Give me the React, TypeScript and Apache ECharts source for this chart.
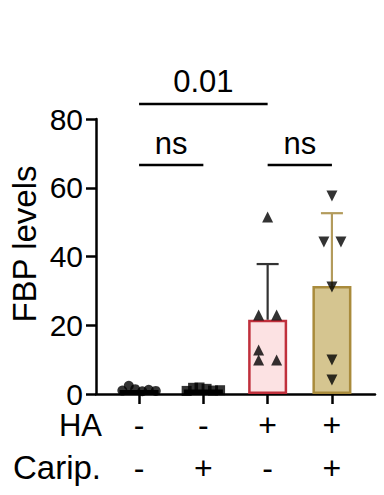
import React, { useEffect, useRef } from "react";
import * as echarts from "echarts";

const FONT = "'Liberation Sans', Arial, Helvetica, sans-serif";

// Row labels under the axis
const haRow = ["-", "-", "+", "+"];
const caripRow = ["-", "+", "-", "+"];
const rowTitles = ["HA", "Carip."];

// Group means and mean+SD tops
const means = [1.2, 1.3, 21.6, 31.4];
const sdTops: (number | null)[] = [null, null, 37.8, 52.6];

// Individual points per group
const pts1 = [1.0, 2.4, 1.4, 0.8, 1.2, 0.9];
const off1 = [-0.26, -0.16, -0.06, 0.05, 0.15, 0.26];
const pts2 = [0.9, 1.8, 1.9, 1.5, 1.0, 1.1];
const off2 = [-0.26, -0.16, -0.06, 0.05, 0.15, 0.26];
const pts3 = [51.5, 23, 23, 12.8, 9.9, 9.9];
const off3 = [0, -0.14, 0.14, -0.14, -0.14, 0.14];
const pts4 = [57.6, 44.2, 44.2, 31.1, 9.9, 4.1];
const off4 = [0, -0.125, 0.14, 0, 0, 0];

// Significance brackets: [from, to, y]
const brackets = [
  [0, 2, 84.4],
  [0, 1, 66.6],
  [2, 3, 66.6],
];
const bracketLabels = ["0.01", "ns", "ns"];

const barFill = ["#000000", "#000000", "#fce2e3", "#d5c590"];
const barBorder = ["#000000", "#000000", "#c0303c", "#a98b3c"];
const errColor = ["#333333", "#333333", "#333333", "#b39b5c"];

export default function App() {
  const ref = useRef<HTMLDivElement>(null);
  useEffect(() => {
    if (!ref.current) return;
    const chart = echarts.init(ref.current, undefined, { renderer: "svg" });
    const axisLine = { color: "#000", width: 2.5 };
    const mkScatter = (pts: number[], off: number[], i: number, symbol: string, size: number, rot = 0) => ({
      type: "scatter",
      data: pts.map((v, j) => [i + off[j], v]),
      symbol,
      symbolSize: size,
      symbolRotate: rot,
      itemStyle: { color: "#000" },
      z: 5,
      clip: false,
    });
    chart.setOption({
      animation: false,
      grid: { left: 96, right: 9, top: 119, bottom: 101, containLabel: false },
      xAxis: {
        type: "value",
        min: -0.67,
        max: 3.67,
        splitLine: { show: false },
        axisLine: { show: true, onZero: false, lineStyle: axisLine },
        axisTick: { show: true, customValues: [0, 1, 2, 3], length: 10, lineStyle: axisLine },
        axisLabel: {
          customValues: [0, 1, 2, 3],
          formatter: (v: number) => {
            const i = Math.round(v);
            return haRow[i] + "\n" + caripRow[i];
          },
          fontSize: 32,
          lineHeight: 43,
          color: "#000",
          margin: 9,
          fontFamily: FONT,
        },
      },
      yAxis: {
        type: "value",
        min: 0,
        max: 80,
        interval: 20,
        splitLine: { show: false },
        axisLine: { show: true, onZero: false, lineStyle: axisLine },
        axisTick: { show: true, length: 10, lineStyle: axisLine },
        axisLabel: { fontSize: 30, margin: 13, color: "#000", fontFamily: FONT },
      },
      graphic: [
        {
          type: "text",
          x: 24,
          y: 244,
          rotation: Math.PI / 2,
          style: { text: "FBP levels", fontSize: 33, fontFamily: FONT, fill: "#000", align: "center", verticalAlign: "middle" },
        },
        {
          type: "text",
          x: 102,
          y: 425,
          style: { text: rowTitles[0], fontSize: 31, fontFamily: FONT, fill: "#000", align: "right", verticalAlign: "middle" },
        },
        {
          type: "text",
          x: 101,
          y: 467,
          style: { text: rowTitles[1], fontSize: 33, fontFamily: FONT, fill: "#000", align: "right", verticalAlign: "middle" },
        },
      ],
      series: [
        {
          type: "bar",
          barWidth: 39,
          data: means.map((m, i) => ({
            value: [i, m],
            itemStyle: { color: barFill[i], borderColor: barBorder[i], borderWidth: 2.5 },
          })),
          z: 2,
        },
        {
          type: "custom",
          clip: false,
          z: 3,
          data: means.map((m, i) => [i, m, sdTops[i] == null ? m : (sdTops[i] as number)]),
          renderItem: (params: any, api: any) => {
            const i = params.dataIndex;
            if (sdTops[i] == null) return null;
            const p0 = api.coord([api.value(0), api.value(1)]);
            const p1 = api.coord([api.value(0), api.value(2)]);
            const st = { stroke: errColor[i], lineWidth: 2.2 };
            return {
              type: "group",
              children: [
                { type: "line", shape: { x1: p0[0], y1: p0[1], x2: p1[0], y2: p1[1] }, style: st },
                { type: "line", shape: { x1: p1[0] - 11, y1: p1[1], x2: p1[0] + 11, y2: p1[1] }, style: st },
              ],
            };
          },
        },
        mkScatter(pts1, off1, 0, "circle", 10),
        mkScatter(pts2, off2, 1, "rect", 10),
        mkScatter(pts3, off3, 2, "triangle", 11),
        mkScatter(pts4, off4, 3, "triangle", 11, 180),
        {
          type: "custom",
          clip: false,
          z: 6,
          data: brackets,
          renderItem: (params: any, api: any) => {
            const a = api.coord([api.value(0), api.value(2)]);
            const b = api.coord([api.value(1), api.value(2)]);
            return {
              type: "group",
              children: [
                { type: "line", shape: { x1: a[0], y1: a[1], x2: b[0], y2: b[1] }, style: { stroke: "#000", lineWidth: 2.5 } },
                {
                  type: "text",
                  x: (a[0] + b[0]) / 2,
                  y: a[1] - 22,
                  style: {
                    text: bracketLabels[params.dataIndex],
                    fontSize: 31,
                    fontFamily: FONT,
                    fill: "#000",
                    align: "center",
                    verticalAlign: "middle",
                  },
                },
              ],
            };
          },
        },
      ],
    });
    return () => chart.dispose();
  }, []);
  return <div ref={ref} style={{ width: 384, height: 495, position: "absolute", left: 0, top: 0 }} />;
}
